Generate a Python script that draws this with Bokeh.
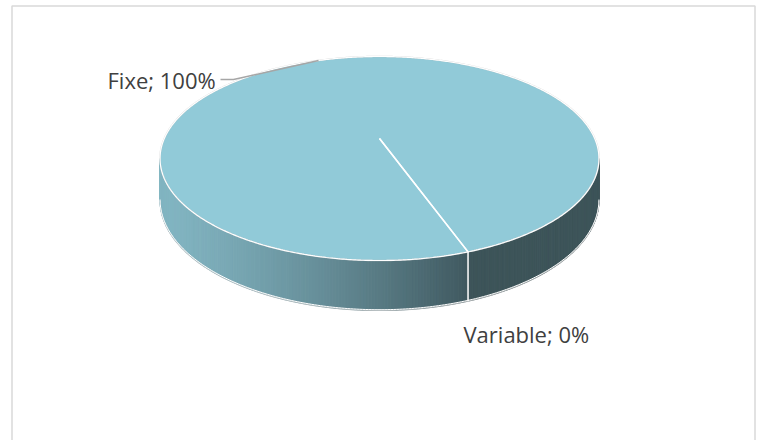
import numpy as np
from bokeh.plotting import figure
from bokeh.models import Range1d
from bokeh.core.properties import value
from bokeh.embed import file_html
from bokeh.resources import INLINE

# ---- data ----
categories = ["Fixe", "Variable"]
values = [100, 0]

# ---- style / layout ----
W, H = 766, 440
CX, CY = 379.0, 138.0      # projected pie centre
A, B = 215.2, 98.1         # projected radii
K = 0.196                  # perspective factor
D = 40.2                   # thickness
FIRST_ANGLE = 160.4        # clockwise from far point (degrees)
TOP_COLOR = "#91CAD8"
SIDE_LIGHT = np.array([130, 181, 194])
SIDE_DARK = np.array([64, 89, 96])
SIDE_RIGHT = "#3D5459"
TEXT_COLOR = "#404040"
FONT = "Open Sans"
label_pos = [(107, 79), (463, 333)]


def proj(theta_deg, depth=0.0):
    t = np.radians(theta_deg)
    u = np.sin(t)
    v = np.cos(t)
    w = 1 + K * v
    return CX + A * u / w, CY - B * v / w + depth * D / w


def hexc(rgb):
    r, g, b = [int(round(c)) for c in rgb]
    return "#%02X%02X%02X" % (r, g, b)


p = figure(width=W, height=H, x_range=Range1d(0, W), y_range=Range1d(H, 0),
           x_axis_location=None, y_axis_location=None, toolbar_location=None,
           output_backend="svg", min_border=0, outline_line_color=None,
           background_fill_color="white", border_fill_color="white")
p.xgrid.visible = False
p.ygrid.visible = False

# chart border
p.quad(left=[11.5], right=[754.5], top=[5.5], bottom=[470], fill_color=None,
       line_color="#D9D9D9", line_width=1.5)

total = float(sum(values))
starts, ends = [], []
acc = FIRST_ANGLE
for val in values:
    starts.append(acc)
    acc += 360.0 * val / total
    ends.append(acc)

# ---- side wall (front half) ----
th_right = np.degrees(np.arccos(-K))
th_left = 360 - th_right
thetas = np.linspace(th_right, th_left, 240)
bx, _ = proj(FIRST_ANGLE)
lx, _ = proj(th_left)
xs_list, ys_list, cols = [], [], []
for i in range(len(thetas) - 1):
    t0, t1 = thetas[i], thetas[i + 1]
    x0, y0 = proj(t0)
    x1, y1 = proj(t1)
    x2, y2 = proj(t1, 1)
    x3, y3 = proj(t0, 1)
    xs_list.append([x0, x1, x2, x3])
    ys_list.append([y0, y1, y2, y3])
    tm = 0.5 * (t0 + t1)
    if tm < FIRST_ANGLE:
        cols.append(SIDE_RIGHT)
    else:
        xm, _ = proj(tm)
        f = np.clip((xm - lx) / (bx - lx), 0, 1) ** 1.3
        cols.append(hexc(SIDE_LIGHT + (SIDE_DARK - SIDE_LIGHT) * f))
p.patches(xs_list, ys_list, fill_color=cols, line_color=cols, line_width=1.0)

# bottom outline
bxs, bys = proj(thetas, 1)
p.line(bxs, bys, line_color="#C8C8C8", line_width=1.2, line_alpha=0.7)
p.line(bxs, bys - 0.8, line_color="white", line_width=1.0)

# ---- top face slices ----
for cat, val, s, e in zip(categories, values, starts, ends):
    if val <= 0:
        continue
    arc = np.linspace(s, e, 361)
    ax, ay = proj(arc)
    if e - s < 359.99:
        ax = np.concatenate([[CX], ax])
        ay = np.concatenate([[CY], ay])
    p.patch(ax, ay, fill_color=TOP_COLOR, line_color=None)

full = np.linspace(0, 360, 721)
ox, oy = proj(full)
p.line(ox, oy, line_color="#BFBFBF", line_width=1.6, line_alpha=0.6)
p.line(ox, oy, line_color="white", line_width=1.2)

# slice boundaries
for s in starts:
    ex, ey = proj(s)
    p.line([CX, ex], [CY, ey], line_color="white", line_width=1.5)
    if th_right <= s <= th_left:
        bex, bey = proj(s, 1)
        p.line([ex, bex], [ey, bey], line_color="white", line_width=1.5)

# ---- labels ----
for i, (cat, val) in enumerate(zip(categories, values)):
    pct = int(round(100 * val / total))
    txt = f"{cat}; {pct}%"
    lxp, lyp = label_pos[i]
    p.text(x=[lxp], y=[lyp], text=[txt], text_font=value(FONT),
           text_font_size="22px", text_color=TEXT_COLOR,
           text_baseline="alphabetic", text_align="left")

# leader line for Fixe
mid = 0.5 * (starts[0] + ends[0])
mx, my = proj(mid)
p.line([220, 233, mx], [79, 79, my], line_color="#A6A6A6", line_width=1.5)

open("out.html", "w").write(file_html(p, INLINE))
